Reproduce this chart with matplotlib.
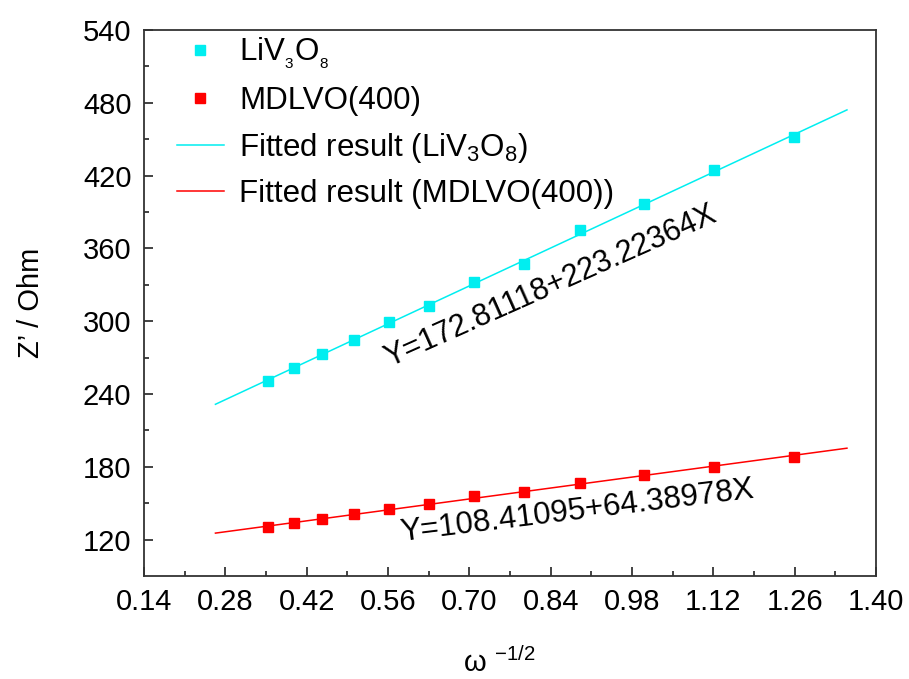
import matplotlib; matplotlib.use('Agg')
import numpy as np
from matplotlib import pyplot as plt

plt.rcParams.update({
    'font.family': ['Liberation Sans', 'DejaVu Sans'],
    'mathtext.fontset': 'custom',
    'mathtext.rm': 'Liberation Sans',
    'mathtext.it': 'Liberation Sans:italic',
    'mathtext.bf': 'Liberation Sans:bold',
})

CYAN = '#00eef0'
RED = '#ff0000'

# omega^-1/2 values and real impedance Z' (Ohm)
x_vals = [0.3536, 0.3981, 0.4467, 0.5012, 0.5623, 0.6310,
          0.7079, 0.7943, 0.8913, 1.0000, 1.1220, 1.2589]
z_livo = [251.1, 261.3, 272.6, 284.7, 299.6, 312.5,
          332.3, 347.5, 374.9, 396.6, 424.5, 451.9]
z_mdlvo = [130.1, 133.9, 136.7, 140.8, 144.9, 149.4,
           155.7, 159.0, 166.4, 173.6, 179.6, 188.2]

# linear fits (intercept, slope) as printed on the chart
fit_livo = (172.81118, 223.22364)
fit_mdlvo = (108.41095, 64.38978)
fit_x = np.array([0.263, 1.35])

xticks = [0.14, 0.28, 0.42, 0.56, 0.70, 0.84, 0.98, 1.12, 1.26, 1.40]
yticks = [120, 180, 240, 300, 360, 420, 480, 540]

fig = plt.figure(figsize=(9.09, 6.79), dpi=100)
ax = fig.add_axes([0.1584, 0.1517, 0.8053, 0.8041])

ax.plot(x_vals, z_livo, ls='none', marker='s', ms=7, color=CYAN,
        label=r'LiV$_{_3}$O$_{_8}$')
ax.plot(x_vals, z_mdlvo, ls='none', marker='s', ms=7, color=RED,
        label='MDLVO(400)')
ax.plot(fit_x, fit_livo[0] + fit_livo[1]*fit_x, color=CYAN, lw=1.1,
        label=r'Fitted result (LiV$_3$O$_8$)')
ax.plot(fit_x, fit_mdlvo[0] + fit_mdlvo[1]*fit_x, color=RED, lw=1.1,
        label='Fitted result (MDLVO(400))')

ax.text(0.840, 329, 'Y=%.5f+%.5fX' % fit_livo, rotation=24,
        ha='center', va='center', fontsize=22, rotation_mode='anchor')
ax.text(0.886, 143.0, 'Y=%.5f+%.5fX' % fit_mdlvo, rotation=7,
        ha='center', va='center', fontsize=22.5, rotation_mode='anchor')

ax.set_xlim(0.14, 1.40)
ax.set_ylim(90, 540)
ax.set_xticks(xticks)
ax.set_xticklabels(['%.2f' % v for v in xticks])
ax.set_xticks([v + 0.07 for v in xticks[:-1]], minor=True)
ax.set_yticks(yticks)
ax.set_yticks([v + 30 for v in yticks[:-1]], minor=True)

ax.tick_params(which='both', direction='in', top=False, right=False,
               labelsize=21, width=1.2, color='#222222')
ax.tick_params(which='major', length=6.5, pad=9)
ax.tick_params(which='minor', length=3.6)
for s in ax.spines.values():
    s.set_linewidth(1.3)
    s.set_color('#333333')

ax.set_xlabel(r'ω $^{-1/2}$', fontsize=21)
ax.xaxis.set_label_coords(0.485, -0.13)
ax.set_ylabel('Z’ / Ohm', fontsize=21)
ax.yaxis.set_label_coords(-0.135, 0.5)

ax.legend(loc='upper left', bbox_to_anchor=(0.045, 0.99), frameon=False,
          fontsize=22.5, numpoints=1, handlelength=1.5, handletextpad=0.5,
          borderaxespad=0, borderpad=0, labelspacing=0.47)

plt.savefig('out.png', dpi=100)
plt.close()
